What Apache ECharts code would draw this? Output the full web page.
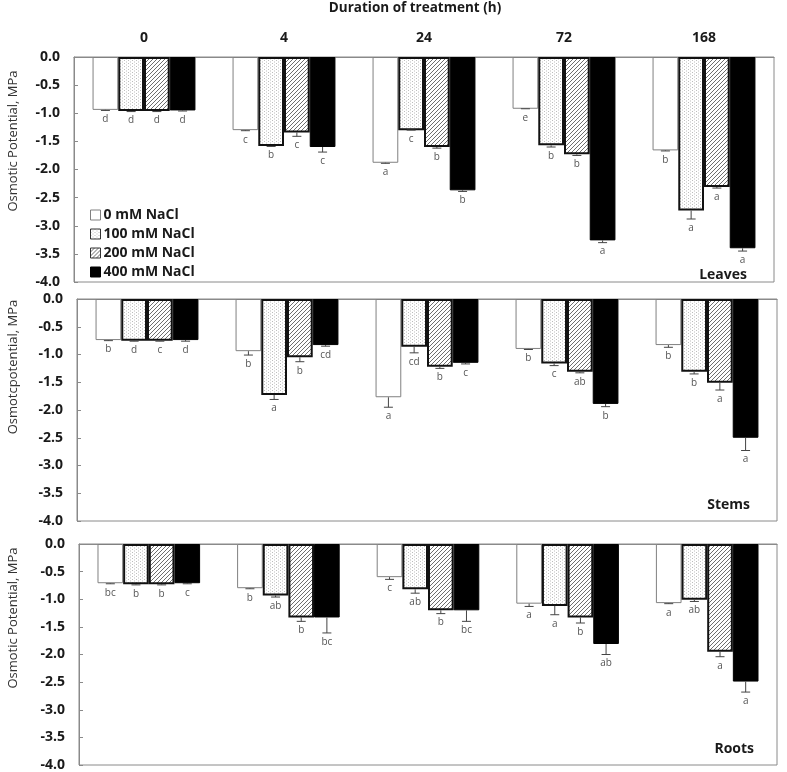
<!DOCTYPE html>
<html>
<head>
<meta charset="utf-8">
<script src="https://cdn.jsdelivr.net/npm/echarts@6/dist/echarts.min.js"></script>
<style>
html,body{margin:0;padding:0;background:#fff;}
#chart{width:787px;height:772px;}
</style>
</head>
<body>
<div id="chart"></div>
<script>
// ---------- data ----------
const categories = ['0', '4', '24', '72', '168'];
const treatments = ['0 mM NaCl', '100 mM NaCl', '200 mM NaCl', '400 mM NaCl'];
const yTicks = [0, -0.5, -1, -1.5, -2, -2.5, -3, -3.5, -4];

// Leaves
const leaves0   = [-0.94, -1.30, -1.88, -0.92, -1.66];
const leaves100 = [-0.96, -1.58, -1.30, -1.57, -2.73];
const leaves200 = [-0.96, -1.34, -1.60, -1.73, -2.31];
const leaves400 = [-0.95, -1.60, -2.37, -3.26, -3.40];
const leavesErr0   = [0.01, 0.01, 0.01, 0.00, 0.01];
const leavesErr100 = [0.01, 0.01, 0.00, 0.03, 0.15];
const leavesErr200 = [0.01, 0.07, 0.02, 0.02, 0.02];
const leavesErr400 = [0.01, 0.09, 0.02, 0.04, 0.05];
const leavesLet0   = ['d', 'c', 'a', 'e', 'b'];
const leavesLet100 = ['d', 'b', 'c', 'b', 'a'];
const leavesLet200 = ['d', 'c', 'b', 'b', 'a'];
const leavesLet400 = ['d', 'c', 'b', 'a', 'a'];

// Stems
const stems0   = [-0.74, -0.94, -1.77, -0.90, -0.83];
const stems100 = [-0.75, -1.73, -0.86, -1.16, -1.31];
const stems200 = [-0.75, -1.05, -1.22, -1.31, -1.51];
const stems400 = [-0.74, -0.83, -1.15, -1.89, -2.50];
const stemsErr0   = [0.01, 0.07, 0.18, 0.01, 0.04];
const stemsErr100 = [0.01, 0.08, 0.11, 0.04, 0.04];
const stemsErr200 = [0.01, 0.08, 0.03, 0.02, 0.13];
const stemsErr400 = [0.02, 0.02, 0.02, 0.05, 0.23];
const stemsLet0   = ['b', 'b', 'a', 'b', 'b'];
const stemsLet100 = ['d', 'a', 'cd', 'c', 'b'];
const stemsLet200 = ['c', 'b', 'b', 'ab', 'a'];
const stemsLet400 = ['d', 'cd', 'c', 'b', 'a'];

// Roots
const roots0   = [-0.71, -0.80, -0.60, -1.08, -1.07];
const roots100 = [-0.73, -0.93, -0.82, -1.12, -1.01];
const roots200 = [-0.73, -1.33, -1.20, -1.33, -1.95];
const roots400 = [-0.71, -1.33, -1.20, -1.81, -2.49];
const rootsErr0   = [0.01, 0.01, 0.04, 0.05, 0.01];
const rootsErr100 = [0.01, 0.03, 0.07, 0.16, 0.03];
const rootsErr200 = [0.01, 0.07, 0.06, 0.10, 0.09];
const rootsErr400 = [0.01, 0.28, 0.20, 0.19, 0.19];
const rootsLet0   = ['bc', 'b', 'c', 'a', 'a'];
const rootsLet100 = ['b', 'ab', 'ab', 'a', 'ab'];
const rootsLet200 = ['b', 'b', 'b', 'b', 'a'];
const rootsLet400 = ['c', 'bc', 'bc', 'ab', 'a'];

const panelNames = ['Leaves', 'Stems', 'Roots'];
const yTitles = ['Osmotic Potential, MPa', 'Osmotcpotential, MPa', 'Osmotic Potential, MPa'];

// ---------- patterns ----------
function dotCanvas() {
  const c = document.createElement('canvas');
  c.width = 4; c.height = 3;
  const g = c.getContext('2d');
  g.fillStyle = '#ffffff'; g.fillRect(0, 0, 4, 3);
  g.fillStyle = '#bdbdbd';
  g.fillRect(0, 0, 1, 1);
  g.fillRect(2, 1.5, 1, 1);
  return c;
}
function hatchCanvas() {
  const s = 4;
  const c = document.createElement('canvas');
  c.width = s; c.height = s;
  const g = c.getContext('2d');
  g.fillStyle = '#ffffff'; g.fillRect(0, 0, s, s);
  g.strokeStyle = '#6e6e6e'; g.lineWidth = 1;
  g.beginPath();
  g.moveTo(0, s); g.lineTo(s, 0);
  g.moveTo(-s / 2, s / 2); g.lineTo(s / 2, -s / 2);
  g.moveTo(s / 2, s * 1.5); g.lineTo(s * 1.5, s / 2);
  g.stroke();
  return c;
}
const dotPattern = { image: dotCanvas(), repeat: 'repeat' };
const hatchPattern = { image: hatchCanvas(), repeat: 'repeat' };

const styles = [
  { color: '#ffffff', borderColor: '#808080', borderWidth: 1 },
  { color: dotPattern, borderColor: '#111111', borderWidth: 2 },
  { color: hatchPattern, borderColor: '#111111', borderWidth: 2 },
  { color: '#000000', borderColor: '#000000', borderWidth: 1 }
];
const legendBorders = ['#808080', '#333333', '#333333', '#000000'];

const panels = [
  { vals: [leaves0, leaves100, leaves200, leaves400], errs: [leavesErr0, leavesErr100, leavesErr200, leavesErr400], lets: [leavesLet0, leavesLet100, leavesLet200, leavesLet400] },
  { vals: [stems0, stems100, stems200, stems400], errs: [stemsErr0, stemsErr100, stemsErr200, stemsErr400], lets: [stemsLet0, stemsLet100, stemsLet200, stemsLet400] },
  { vals: [roots0, roots100, roots200, roots400], errs: [rootsErr0, rootsErr100, rootsErr200, rootsErr400], lets: [rootsLet0, rootsLet100, rootsLet200, rootsLet400] }
];

const FONT = '"Open Sans", "Noto Sans", sans-serif';
const CAT_GAP = 0.265;

const grids = [
  { left: 74, right: 13, top: 57, height: 225 },
  { left: 77, right: 10, top: 299, height: 222 },
  { left: 79, right: 10, top: 544, height: 222 }
];

const xAxes = [], yAxes = [], series = [];
grids.forEach((g, i) => {
  g.show = true; g.borderColor = '#8a8a8a'; g.borderWidth = 1; g.backgroundColor = 'transparent';
  xAxes.push({
    gridIndex: i, type: 'category', data: categories, position: 'top',
    axisLine: { show: true, lineStyle: { color: '#8a8a8a', width: 1 } },
    axisTick: { show: false },
    axisLabel: { show: i === 0, fontFamily: FONT, fontWeight: 'bold', fontSize: 14, color: '#1a1a1a', margin: 12 },
    splitLine: { show: false }
  });
  yAxes.push({
    gridIndex: i, type: 'value', min: -4, max: 0, interval: 0.5,
    axisLine: { show: true, lineStyle: { color: '#8a8a8a', width: 1 } },
    axisTick: { show: true, inside: true, length: 4, lineStyle: { color: '#8a8a8a' } },
    axisLabel: { fontFamily: FONT, fontWeight: 'bold', fontSize: 14, color: '#1a1a1a', margin: 14,
      formatter: v => v.toFixed(1) },
    splitLine: { show: false }
  });
  const p = panels[i];
  for (let s = 0; s < 4; s++) {
    series.push({
      type: 'bar', name: treatments[s], xAxisIndex: i, yAxisIndex: i,
      data: p.vals[s], barGap: '0%', barCategoryGap: (CAT_GAP * 100) + '%',
      itemStyle: styles[s], emphasis: { disabled: true }, z: 2
    });
  }
  // error bars & letters
  const errData = [];
  for (let s = 0; s < 4; s++) {
    for (let c = 0; c < categories.length; c++) {
      errData.push([c, p.vals[s][c], p.errs[s][c], s]);
    }
  }
  const letters = [];
  for (let s = 0; s < 4; s++) for (let c = 0; c < categories.length; c++) letters.push(p.lets[s][c]);
  series.push({
    type: 'custom', xAxisIndex: i, yAxisIndex: i, z: 5, silent: true,
    data: errData,
    renderItem: function (params, api) {
      const c = api.value(0), v = api.value(1), e = api.value(2), s = api.value(3);
      const band = api.size([1, 0])[0];
      const groupW = band * (1 - CAT_GAP);
      const bw = groupW / 4;
      const center = api.coord([c, 0])[0];
      const x = center - groupW / 2 + bw * (s + 0.5);
      const y0 = api.coord([c, v])[1];
      const y1 = api.coord([c, v - e])[1];
      const col = '#444';
      return {
        type: 'group',
        children: [
          { type: 'line', shape: { x1: x, y1: y0, x2: x, y2: y1 }, style: { stroke: col, lineWidth: 1 } },
          { type: 'line', shape: { x1: x - 4.5, y1: y1, x2: x + 4.5, y2: y1 }, style: { stroke: col, lineWidth: 1 } },
          { type: 'text', x: x, y: y1 + 4, style: { text: letters[params.dataIndex], fill: '#555', font: '10px ' + FONT, align: 'center', verticalAlign: 'top' } }
        ]
      };
    }
  });
});

const graphic = [
  { type: 'text', x: 415, y: 8, style: { text: 'Duration of treatment (h)', font: 'bold 13.5px ' + FONT, fill: '#1a1a1a', align: 'center', verticalAlign: 'middle' } },
  { type: 'text', x: 13, y: 141, rotation: Math.PI / 2, style: { text: yTitles[0], font: '13px ' + FONT, fill: '#333', align: 'center', verticalAlign: 'middle' } },
  { type: 'text', x: 13, y: 367, rotation: Math.PI / 2, style: { text: yTitles[1], font: '13px ' + FONT, fill: '#333', align: 'center', verticalAlign: 'middle' } },
  { type: 'text', x: 13, y: 618, rotation: Math.PI / 2, style: { text: yTitles[2], font: '13px ' + FONT, fill: '#333', align: 'center', verticalAlign: 'middle' } },
  { type: 'text', x: 747, y: 275, style: { text: panelNames[0], font: 'bold 14px ' + FONT, fill: '#1a1a1a', align: 'right', verticalAlign: 'middle' } },
  { type: 'text', x: 750, y: 505, style: { text: panelNames[1], font: 'bold 14px ' + FONT, fill: '#1a1a1a', align: 'right', verticalAlign: 'middle' } },
  { type: 'text', x: 754, y: 749, style: { text: panelNames[2], font: 'bold 14px ' + FONT, fill: '#1a1a1a', align: 'right', verticalAlign: 'middle' } }
];

const chart = echarts.init(document.getElementById('chart'), null, { renderer: 'canvas' });
chart.setOption({
  animation: false,
  backgroundColor: '#ffffff',
  grid: grids,
  xAxis: xAxes,
  yAxis: yAxes,
  series: series,
  legend: {
    data: treatments.map((n, k) => ({ name: n, itemStyle: { borderWidth: 1, borderColor: legendBorders[k] } })),
    orient: 'vertical', left: 85, top: 203,
    icon: 'rect', itemWidth: 10, itemHeight: 10, itemGap: 5,
    textStyle: { fontFamily: FONT, fontWeight: 'bold', fontSize: 14, color: '#1a1a1a', padding: [0, 0, 0, -2] },
    selectedMode: false
  },
  graphic: graphic
});
</script>
</body>
</html>
